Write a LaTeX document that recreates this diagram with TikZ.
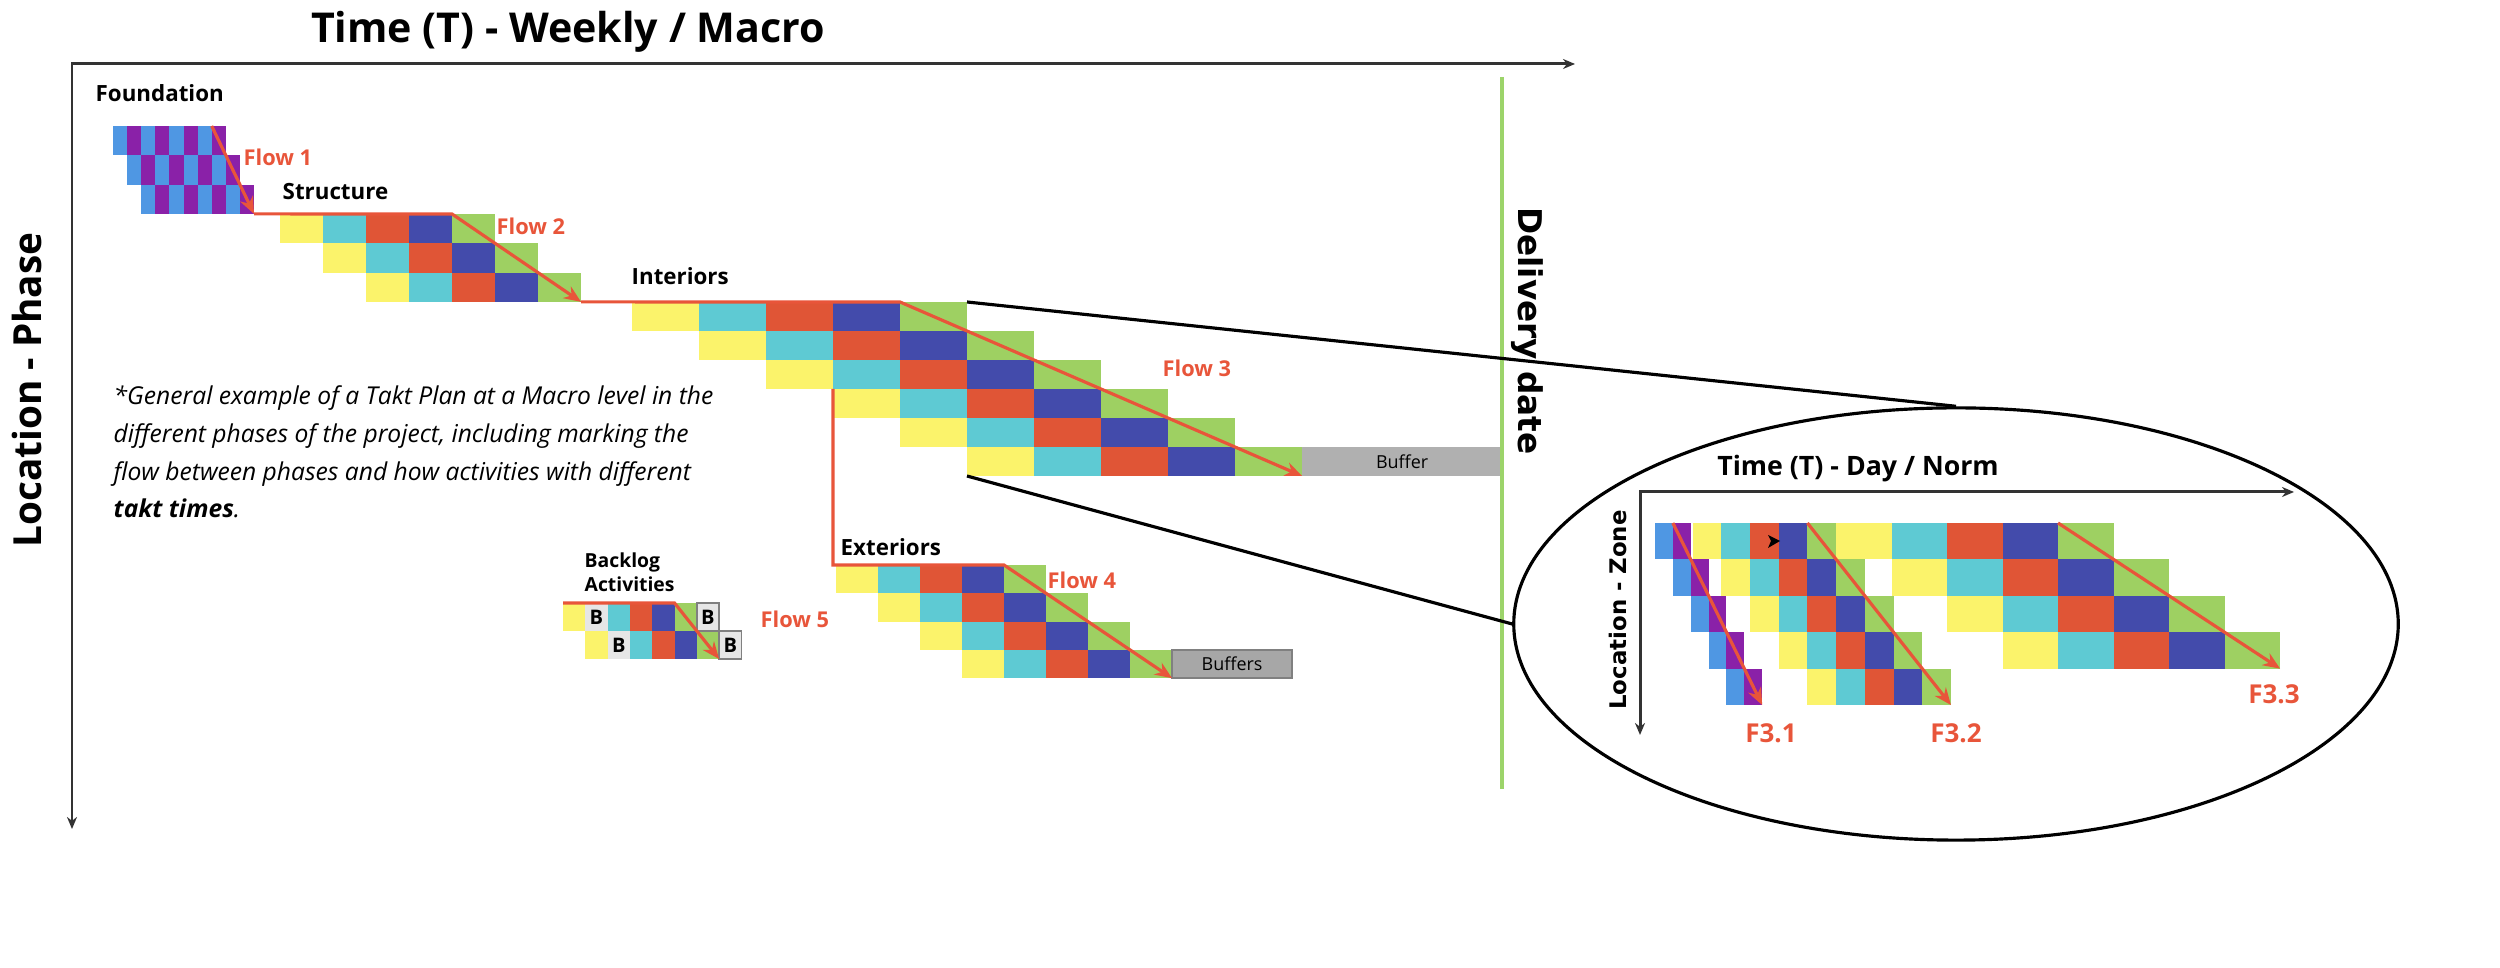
\documentclass[tikz,border=0pt]{standalone}
\usepackage{fontspec}
\setmainfont{Open Sans}
\newfontfamily\djv{DejaVu Sans}
\usetikzlibrary{arrows.meta,shapes.geometric}

\definecolor{cblue}{HTML}{4F97E3}
\definecolor{cpurple}{HTML}{8A21A8}
\definecolor{cyel}{HTML}{FBF36B}
\definecolor{ccyan}{HTML}{5ECAD3}
\definecolor{cred}{HTML}{E05536}
\definecolor{cnavy}{HTML}{434BAB}
\definecolor{cgreen}{HTML}{9ED062}
\definecolor{blight}{HTML}{E6E6E6}
\definecolor{flowred}{HTML}{E8553A}
\definecolor{bufgray}{HTML}{B0B0B0}
\definecolor{delgreen}{HTML}{9CD46A}
\definecolor{axisgray}{HTML}{333333}

\begin{document}
\begin{tikzpicture}[x=0.01cm,y=-0.01cm]
        \tikzstyle{cell}=[anchor=north west, inner sep=0pt, outer sep=0pt]
        \tikzstyle{flow}=[draw=flowred, line width=0.9pt,
            -{Stealth[length=1.7mm,width=1.4mm]}]
        \tikzstyle{flowlabel}=[anchor=west, inner sep=0pt, text=flowred,
            font=\bfseries\fontsize{6.2}{7}\selectfont]
        \tikzstyle{phase}=[anchor=west, inner sep=0pt,
            font=\bfseries\fontsize{6.35}{7}\selectfont]
        \tikzstyle{axis}=[draw=axisgray, line width=0.85pt]
        \tikzstyle{zoomline}=[draw=black, line width=0.9pt]
        \useasboundingbox (0,0) rectangle (2500,968);

        % main axes
        \coordinate (org) at (72,64);
        \coordinate (tend) at (1575,64);
        \coordinate (lend) at (72,829);
        \draw[axis, {Stealth[length=1.2mm,width=1mm]}-{Stealth[length=1.2mm,width=1mm]}]
            (lend) -- (org) -- (tend);
        \node[font=\bfseries\fontsize{11.7}{13}\selectfont, anchor=base] (title) at (568,43)
            {Time (T) - Weekly / Macro};
        \node[font=\bfseries\fontsize{11}{13}\selectfont, rotate=90] (ylab) at (27,390)
            {Location - Phase};

        % foundation
        \foreach \r in {0,1,2}
            \foreach \c/\col in {0/cblue,1/cpurple,2/cblue,3/cpurple,4/cblue,5/cpurple,6/cblue,7/cpurple}
                \node[cell, fill=\col, minimum width=1.41mm, minimum height=2.93mm]
                    (fd-\r-\c) at ({113+14.1*(\r+\c)}, {126+29.3*\r}) {};
        \node[phase] (fdlab) at (95,93) {Foundation};

        % structure
        \foreach \r in {0,1,2}
            \foreach \c/\col in {0/cyel,1/ccyan,2/cred,3/cnavy,4/cgreen}
                \node[cell, fill=\col, minimum width=4.3mm, minimum height=2.93mm]
                    (st-\r-\c) at ({280+43*(\r+\c)}, {214+29.3*\r}) {};
        \node[phase] (stlab) at (282,192) {Structure};

        % interiors
        \foreach \r in {0,...,5}
            \foreach \c/\col in {0/cyel,1/ccyan,2/cred,3/cnavy,4/cgreen}
                \node[cell, fill=\col, minimum width=6.7mm, minimum height=2.9mm]
                    (in-\r-\c) at ({632+67*(\r+\c)}, {302+29*\r}) {};
        \node[phase] (inlab) at (631,276) {Interiors};
        \node[cell, fill=bufgray, minimum width=20mm, minimum height=2.9mm,
            font=\fontsize{5.1}{6}\selectfont] (buf) at (in-5-4.north east) {Buffer};

        % exteriors
        \foreach \r in {0,...,3}
            \foreach \c/\col in {0/cyel,1/ccyan,2/cred,3/cnavy,4/cgreen}
                \node[cell, fill=\col, minimum width=4.2mm, minimum height=2.83mm]
                    (ex-\r-\c) at ({836+42*(\r+\c)}, {565+28.3*\r}) {};
        \node[phase] (exlab) at (840,547) {Exteriors};
        \node[cell, fill=bufgray!95!black, draw=gray, line width=0.6pt, minimum width=12mm,
            minimum height=2.83mm, font=\fontsize{5.1}{6}\selectfont] (bufs) at (ex-3-4.north east) {Buffers};

        % backlog
        \foreach \r in {0,1}
            \foreach \c/\col/\txt in {0/cyel/{},1/blight/B,2/ccyan/{},3/cred/{},4/cnavy/{},5/cgreen/{}}
                \node[cell, fill=\col, minimum width=2.23mm, minimum height=2.8mm,
                    font=\bfseries\fontsize{5.7}{6}\selectfont]
                    (bk-\r-\c) at ({563+22.3*(\r+\c)}, {603+28*\r}) {\txt};
        \foreach \r in {0,1}
            \node[cell, fill=blight, draw=gray, line width=0.5pt, minimum width=2.23mm,
                minimum height=2.8mm, font=\bfseries\fontsize{5.7}{6}\selectfont]
                (bk-\r-6) at ({563+22.3*(\r+6)}, {603+28*\r}) {B};
        \node[anchor=west, inner sep=0pt, align=left,
            font=\bfseries\fontsize{5.5}{6.8}\selectfont] (bklab) at (584,572) {Backlog\\Activities};

        % flows
        \draw[flow] (fd-0-7.north west) -- (fd-2-7.south east);
        \draw[flow] (fd-2-7.south east) -- (st-0-4.north west) -- (st-2-4.south east);
        \draw[flow] (st-2-4.south east) -- (in-0-4.north west) -- (in-5-4.south east);
        \draw[flow] (in-3-0.north west) |- (ex-0-4.north west) -- (ex-3-4.south east);
        \draw[flow] (bk-0-0.north west) -- (bk-0-5.north west) -- (bk-1-5.south east);
        \node[flowlabel] (f1) at (243,157) {Flow 1};
        \node[flowlabel] (f2) at (496,226) {Flow 2};
        \node[flowlabel] (f3) at (1162,368) {Flow 3};
        \node[flowlabel] (f4) at (1047,580) {Flow 4};
        \node[flowlabel] (f5) at (760,619) {Flow 5};

        % note
        \node[anchor=west, inner sep=0pt, align=left,
            font=\itshape\fontsize{7}{10.7}\selectfont] (note) at (113,452)
            {*General example of a Takt Plan at a Macro level in the\\
             different phases of the project, including marking the\\
             flow between phases and how activities with different\\
             \textbf{takt times}.};

        % delivery date
        \coordinate (dtop) at (1502,77);
        \coordinate (dbot) at (1502,789);
        \draw[draw=delgreen, line width=0.9pt] (dtop) -- (dbot);
        \node[font=\djv\bfseries\fontsize{9.3}{11}\selectfont, rotate=-90] (deliv) at (1527,331)
            {Delivery date};

        % zoom on interiors
        \node[ellipse, draw, line width=0.9pt, minimum width=8.84cm, minimum height=4.32cm,
            inner sep=0pt] (zoom) at (1956,624) {};
        \draw[zoomline] (in-0-4.north east) -- (zoom.north);
        \draw[zoomline] (in-5-0.south west) -- (zoom.west);

        \coordinate (zorg) at (1640,492);
        \coordinate (ztend) at (2294,492);
        \coordinate (zlend) at (1640,735);
        \draw[axis, {Stealth[length=1.2mm,width=1mm]}-{Stealth[length=1.2mm,width=1mm]}]
            (zlend) -- (zorg) -- (ztend);
        \node[font=\bfseries\fontsize{7.6}{9}\selectfont, anchor=base] (ztitle) at (1858,476)
            {Time (T) - Day / Norm};
        \node[font=\djv\bfseries\fontsize{6.5}{8}\selectfont, rotate=90] (zylab) at (1618,610)
            {Location - Zone};

        \foreach \r in {0,...,4}
            \foreach \c/\col in {0/cblue,1/cpurple}
                \node[cell, fill=\col, minimum width=1.786mm, minimum height=3.64mm]
                    (za-\r-\c) at ({1655+17.86*(\r+\c)}, {523+36.4*\r}) {};
        \foreach \r in {0,...,4}
            \foreach \c/\col in {0/cyel,1/ccyan,2/cred,3/cnavy,4/cgreen}
                \node[cell, fill=\col, minimum width=2.87mm, minimum height=3.64mm]
                    (zb-\r-\c) at ({1692.6+28.7*(\r+\c)}, {523+36.4*\r}) {};
        \foreach \r in {0,...,3}
            \foreach \c/\col in {0/cyel,1/ccyan,2/cred,3/cnavy,4/cgreen}
                \node[cell, fill=\col, minimum width=5.55mm, minimum height=3.64mm]
                    (zc-\r-\c) at ({1836+55.5*(\r+\c)}, {523+36.4*\r}) {};
        \fill (1768,535) -- (1780,541) -- (1768,548) -- (1771,541) -- cycle;

        \draw[flow] (za-0-1.north west) -- (za-4-1.south east);
        \draw[flow] (zb-0-4.north west) -- (zb-4-4.south east);
        \draw[flow] (zc-0-4.north west) -- (zc-3-4.south east);
        \node[flowlabel, anchor=center, font=\bfseries\fontsize{7.4}{9}\selectfont] (fa) at (1771,733) {F3.1};
        \node[flowlabel, anchor=center, font=\bfseries\fontsize{7.4}{9}\selectfont] (fb) at (1956,733) {F3.2};
        \node[flowlabel, anchor=center, font=\bfseries\fontsize{7.4}{9}\selectfont] (fc) at (2274,694) {F3.3};

    \end{tikzpicture}
\end{document}
